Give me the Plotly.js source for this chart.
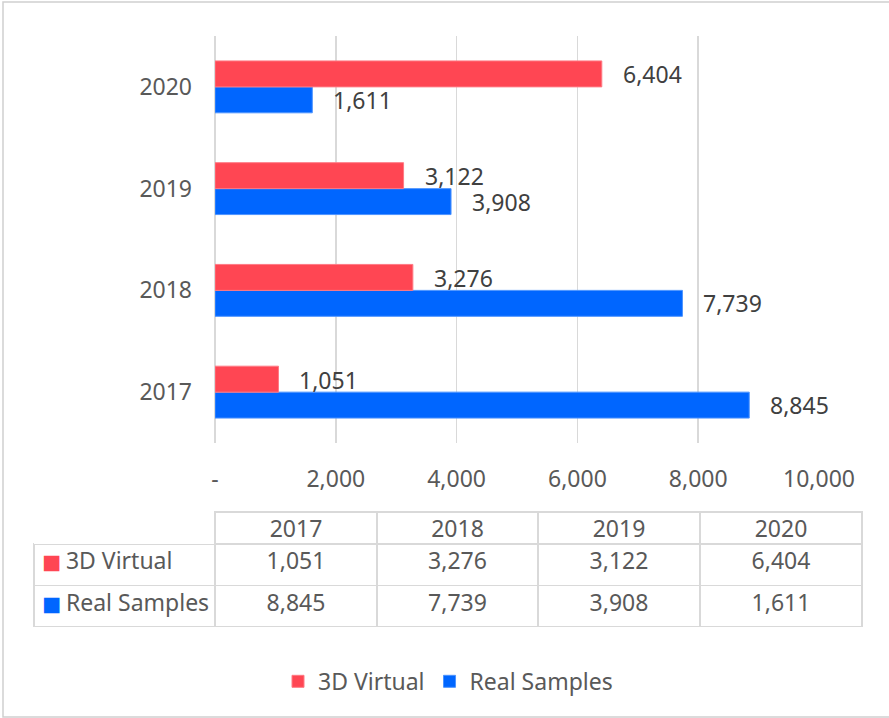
<!DOCTYPE html>
<html>
<head>
<meta charset="utf-8">
<script src="https://cdn.plot.ly/plotly-3.0.1.min.js"></script>
<style>html,body{margin:0;padding:0;background:#fff;}#chart{width:889px;height:718px;}</style>
</head>
<body>
<div id="chart"></div>
<script>
const years = ['2017', '2018', '2019', '2020'];
const virtualName = '3D Virtual';
const realName = 'Real Samples';
const virtualValues = [1051, 3276, 3122, 6404];
const realValues = [8845, 7739, 3908, 1611];
const xTickVals = [0, 2000, 4000, 6000, 8000, 10000];
const xTickText = ['-', '2,000', '4,000', '6,000', '8,000', '10,000'];

const RED = '#FF4653';
const BLUE = '#0066FF';
const FONT = 'Noto Sans, Open Sans, sans-serif';
const NB = '\u00a0';
const fmt = v => v.toLocaleString('en-US');
const label = name => NB + NB + NB + NB + name.replace(/ /g, NB);
const TABLE_Y = [0, 115 / 591];

const traces = [
  {
    type: 'bar', orientation: 'h', name: realName,
    y: years, x: realValues,
    marker: {color: BLUE, line: {color: '#4d94ff', width: 1}},
    hoverinfo: 'skip'
  },
  {
    type: 'bar', orientation: 'h', name: virtualName,
    y: years, x: virtualValues,
    marker: {color: RED, line: {color: '#ff7a84', width: 1}},
    hoverinfo: 'skip'
  },
  {
    type: 'table',
    domain: {x: [0, 1], y: TABLE_Y},
    columnwidth: [181, 162, 161, 162, 162],
    header: {
      values: [''].concat(years),
      height: 32,
      align: 'center',
      line: {color: ['rgba(0,0,0,0)', '#d9d9d9', '#d9d9d9', '#d9d9d9', '#d9d9d9'], width: 1.5},
      fill: {color: 'white'},
      font: {family: FONT, size: 23, color: '#595959'}
    },
    cells: {
      values: [
        [label(virtualName), label(realName)]
      ].concat(years.map((y, i) => [fmt(virtualValues[i]), fmt(realValues[i])])),
      height: 41.5,
      align: ['left', 'center', 'center', 'center', 'center'],
      line: {color: '#d9d9d9', width: 1.5},
      fill: {color: 'white'},
      font: {family: FONT, size: 23, color: '#595959'}
    }
  },
  {
    // colour keys inside the table's label column
    type: 'table',
    domain: {x: [0, 40 / 828], y: [3 / 591, 118 / 591]},
    header: {
      values: [''],
      height: 32,
      line: {color: 'rgba(0,0,0,0)', width: 0},
      fill: {color: 'rgba(0,0,0,0)'},
      font: {family: FONT, size: 23, color: '#595959'}
    },
    cells: {
      values: [['■', '■']],
      height: 41.5,
      align: 'left',
      line: {color: 'rgba(0,0,0,0)', width: 0},
      fill: {color: 'rgba(0,0,0,0)'},
      font: {family: FONT, size: 32, color: [[RED, BLUE]]}
    }
  }
];

const annotations = [];
years.forEach((y, i) => {
  annotations.push({
    x: virtualValues[i], y: i, xref: 'x', yref: 'y',
    text: fmt(virtualValues[i]), showarrow: false,
    xanchor: 'left', yanchor: 'middle', xshift: 19, yshift: 12.5,
    font: {family: FONT, size: 23, color: '#404040'}
  });
  annotations.push({
    x: realValues[i], y: i, xref: 'x', yref: 'y',
    text: fmt(realValues[i]), showarrow: false,
    xanchor: 'left', yanchor: 'middle', xshift: 19, yshift: -13,
    font: {family: FONT, size: 23, color: '#404040'}
  });
});

const layout = {
  width: 889, height: 718,
  margin: {l: 34, r: 27, t: 36, b: 91},
  paper_bgcolor: 'white', plot_bgcolor: 'white',
  font: {family: FONT, size: 23, color: '#595959'},
  barmode: 'group',
  bargap: 0.49,
  bargroupgap: 0,
  showlegend: true,
  legend: {
    orientation: 'h', x: 0.5, xanchor: 'center', y: -0.092, yanchor: 'middle',
    traceorder: 'reversed',
    font: {family: FONT, size: 23, color: '#595959'}
  },
  xaxis: {
    domain: [181 / 828, 785 / 828],
    range: [0, 10000],
    tickvals: xTickVals, ticktext: xTickText,
    showgrid: true, gridcolor: '#d9d9d9', gridwidth: 1.5,
    zeroline: true, zerolinecolor: '#d9d9d9', zerolinewidth: 1.5,
    showline: false, ticks: '',
    ticklabelstandoff: 20,
    tickfont: {family: FONT, size: 23, color: '#595959'},
    fixedrange: true
  },
  yaxis: {
    domain: [184 / 591, 1],
    type: 'category',
    categoryorder: 'array', categoryarray: years,
    range: [-0.5, years.length - 0.5],
    showgrid: false, zeroline: false, showline: false, ticks: '',
    ticklabelstandoff: 22,
    tickfont: {family: FONT, size: 23, color: '#595959'},
    fixedrange: true
  },
  annotations: annotations,
  shapes: [{
    type: 'rect', xref: 'paper', yref: 'paper',
    x0: -31 / 828, x1: 880 / 828, y0: -90 / 591, y1: 1 + 34 / 591,
    line: {color: '#d0d0d0', width: 1.5}, fillcolor: 'rgba(0,0,0,0)', layer: 'below'
  }]
};

Plotly.newPlot('chart', traces, layout, {displayModeBar: false, staticPlot: true});
</script>
</body>
</html>
